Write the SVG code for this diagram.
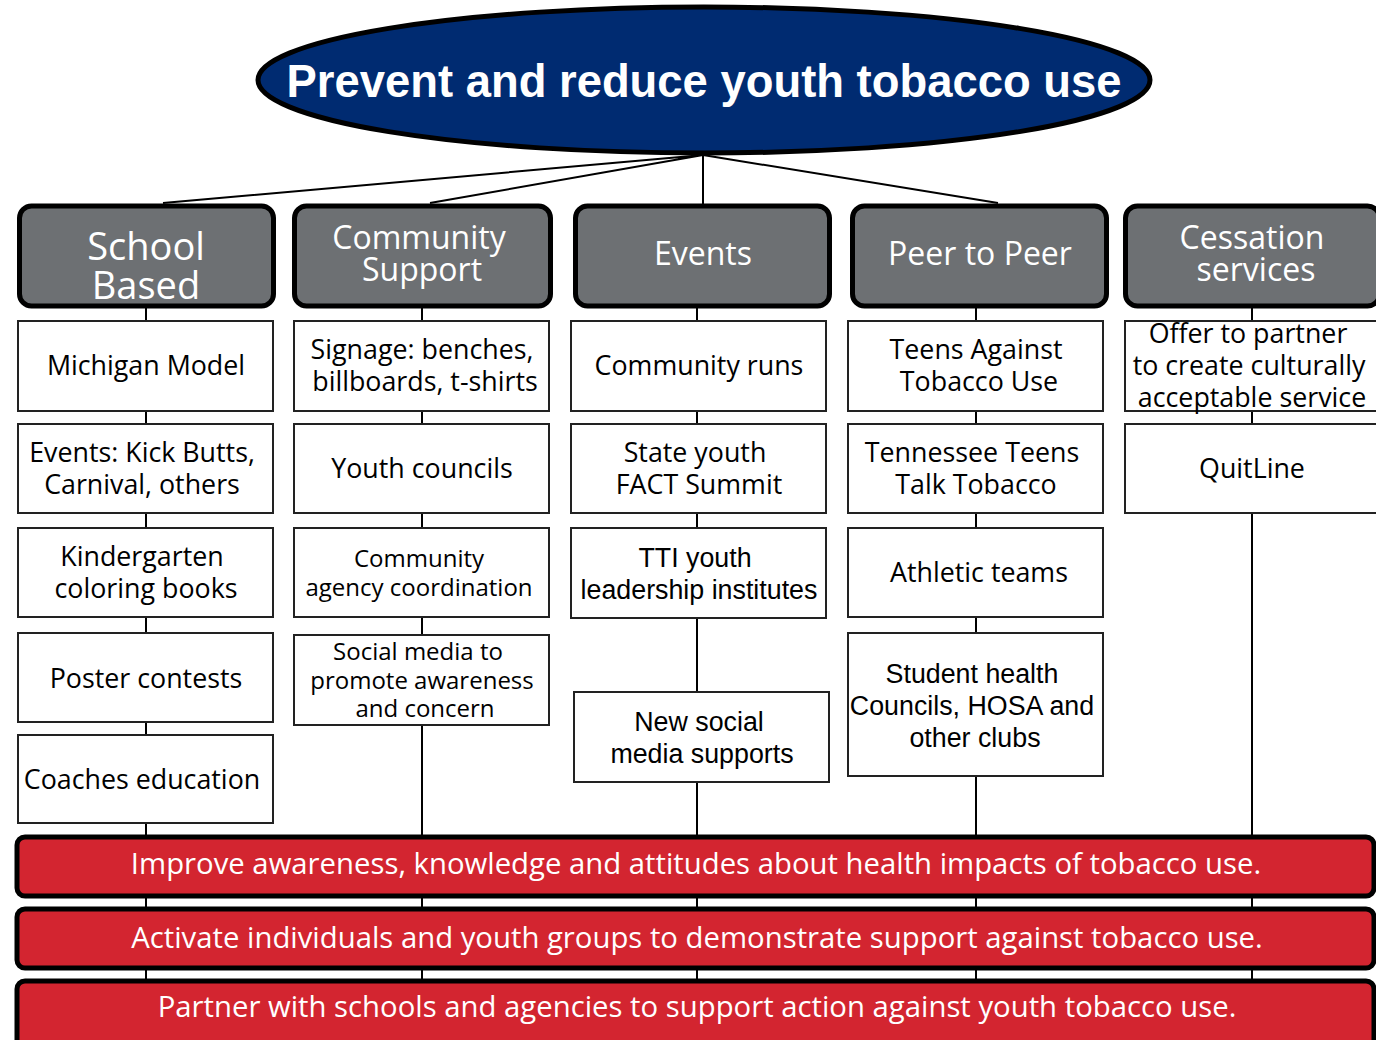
<svg xmlns="http://www.w3.org/2000/svg" width="1376" height="1040" viewBox="0 0 1376 1040">
<style>
.hdr{fill:#6d7073;stroke:#000;stroke-width:5}
.box{fill:#fff;stroke:#222;stroke-width:2}
.bar{fill:#d32530;stroke:#000;stroke-width:5}
.ht{font-family:"Open Sans",sans-serif;fill:#fff;text-anchor:middle}
.bt{font-family:"Open Sans",sans-serif;fill:#000;text-anchor:middle;font-size:26.8px}
.st{font-family:"Open Sans",sans-serif;fill:#000;text-anchor:middle;font-size:24px}
.at{font-family:"Liberation Sans",Arial,sans-serif;fill:#000;text-anchor:middle;font-size:26.8px}
.rt{font-family:"Open Sans",sans-serif;fill:#fff;text-anchor:middle;font-size:29.3px}
.ln{stroke:#000;stroke-width:2;fill:none}
</style>
<rect width="1376" height="1040" fill="#fff"/>
<g id="connectors">
<path class="ln" d="M703,155 L163,203 M703,155 L430,203 M703,155 L703,204 M703,155 L998,203"/>
<path class="ln" d="M146,307 V1040 M422,307 V1040 M697,307 V1040 M976,307 V1040 M1252,307 V1040"/>
</g>
<g id="goal">
<ellipse cx="704" cy="80" rx="446" ry="73" fill="#002b71" stroke="#000" stroke-width="5"/>
<text x="704" y="97" font-family="'Liberation Sans',Arial,sans-serif" font-weight="bold" font-size="45.4" fill="#fff" text-anchor="middle">Prevent and reduce youth tobacco use</text>
</g>
<g id="school-based"><rect class="hdr" x="19.5" y="206" width="254" height="100" rx="12"/><text class="ht" font-size="38" x="146" y="260">School</text><text class="ht" font-size="38" x="146" y="299">Based</text></g>
<g id="community-support"><rect class="hdr" x="294.5" y="206" width="256" height="100" rx="12"/><text class="ht" font-size="32" x="419" y="249">Community</text><text class="ht" font-size="32" x="422" y="281">Support</text></g>
<g id="events"><rect class="hdr" x="575.5" y="206" width="254" height="100" rx="12"/><text class="ht" font-size="32" x="703" y="265">Events</text></g>
<g id="peer-to-peer"><rect class="hdr" x="852.5" y="206" width="254" height="100" rx="12"/><text class="ht" font-size="32" x="980" y="265">Peer to Peer</text></g>
<g id="cessation"><rect class="hdr" x="1125.5" y="206" width="254" height="100" rx="12"/><text class="ht" font-size="32" x="1252" y="249">Cessation</text><text class="ht" font-size="32" x="1256" y="281">services</text></g>

<g id="michigan-model"><rect class="box" x="18" y="321" width="255" height="90"/><text class="bt" x="146" y="375">Michigan Model</text></g>
<g id="events-kick-butts"><rect class="box" x="18" y="424" width="255" height="89"/><text class="bt" x="142" y="462">Events: Kick Butts,</text><text class="bt" x="142" y="494">Carnival, others</text></g>
<g id="kindergarten"><rect class="box" x="18" y="528" width="255" height="89"/><text class="bt" x="142" y="566">Kindergarten</text><text class="bt" x="146" y="598">coloring books</text></g>
<g id="poster-contests"><rect class="box" x="18" y="633" width="255" height="89"/><text class="bt" x="146" y="688">Poster contests</text></g>
<g id="coaches-education"><rect class="box" x="18" y="735" width="255" height="88"/><text class="bt" x="142" y="789">Coaches education</text></g>

<g id="signage"><rect class="box" x="294" y="321" width="255" height="90"/><text class="bt" x="422" y="359">Signage: benches,</text><text class="bt" x="425" y="391">billboards, t-shirts</text></g>
<g id="youth-councils"><rect class="box" x="294" y="424" width="255" height="89"/><text class="bt" x="422" y="478">Youth councils</text></g>
<g id="agency-coordination"><rect class="box" x="294" y="528" width="255" height="89"/><text class="st" x="419" y="567">Community</text><text class="st" x="419" y="596">agency coordination</text></g>
<g id="social-media-awareness"><rect class="box" x="294" y="635" width="255" height="90"/><text class="st" x="418" y="660">Social media to</text><text class="st" x="422" y="689">promote awareness</text><text class="st" x="425" y="717">and concern</text></g>

<g id="community-runs"><rect class="box" x="571" y="321" width="255" height="90"/><text class="bt" x="699" y="375">Community runs</text></g>
<g id="state-youth-summit"><rect class="box" x="571" y="424" width="255" height="89"/><text class="bt" x="695" y="462">State youth</text><text class="bt" x="699" y="494">FACT Summit</text></g>
<g id="tti-youth"><rect class="box" x="571" y="528" width="255" height="90"/><text class="at" x="695" y="567">TTI youth</text><text class="at" x="699" y="599">leadership institutes</text></g>
<g id="new-social-media"><rect class="box" x="574" y="692" width="255" height="90"/><text class="at" x="699" y="731">New social</text><text class="at" x="702" y="763">media supports</text></g>

<g id="teens-against-tobacco"><rect class="box" x="848" y="321" width="255" height="90"/><text class="bt" x="976" y="359">Teens Against</text><text class="bt" x="979" y="391">Tobacco Use</text></g>
<g id="tennessee-teens"><rect class="box" x="848" y="424" width="255" height="89"/><text class="bt" x="972" y="462">Tennessee Teens</text><text class="bt" x="976" y="494">Talk Tobacco</text></g>
<g id="athletic-teams"><rect class="box" x="848" y="528" width="255" height="89"/><text class="bt" x="979" y="582">Athletic teams</text></g>
<g id="student-health"><rect class="box" x="848" y="633" width="255" height="143"/><text class="at" x="972" y="683">Student health</text><text class="at" x="972" y="715">Councils, HOSA and</text><text class="at" x="975" y="747">other clubs</text></g>

<g id="offer-to-partner"><rect class="box" x="1125" y="321" width="260" height="90"/><text class="bt" x="1248" y="343">Offer to partner</text><text class="bt" x="1249" y="375">to create culturally</text><text class="bt" x="1252" y="407">acceptable service</text></g>
<g id="quitline"><rect class="box" x="1125" y="424" width="260" height="89"/><text class="bt" x="1252" y="478">QuitLine</text></g>

<g id="outcome-awareness"><rect class="bar" x="17" y="837" width="1357" height="59" rx="8"/><text class="rt" x="696" y="874">Improve awareness, knowledge and attitudes about health impacts of tobacco use.</text></g>
<g id="outcome-activate"><rect class="bar" x="17" y="909" width="1357" height="59" rx="8"/><text class="rt" x="697" y="948">Activate individuals and youth groups to demonstrate support against tobacco use.</text></g>
<g id="outcome-partner"><rect class="bar" x="17" y="981" width="1357" height="70" rx="8"/><text class="rt" x="697" y="1017">Partner with schools and agencies to support action against youth tobacco use.</text></g>
</svg>
